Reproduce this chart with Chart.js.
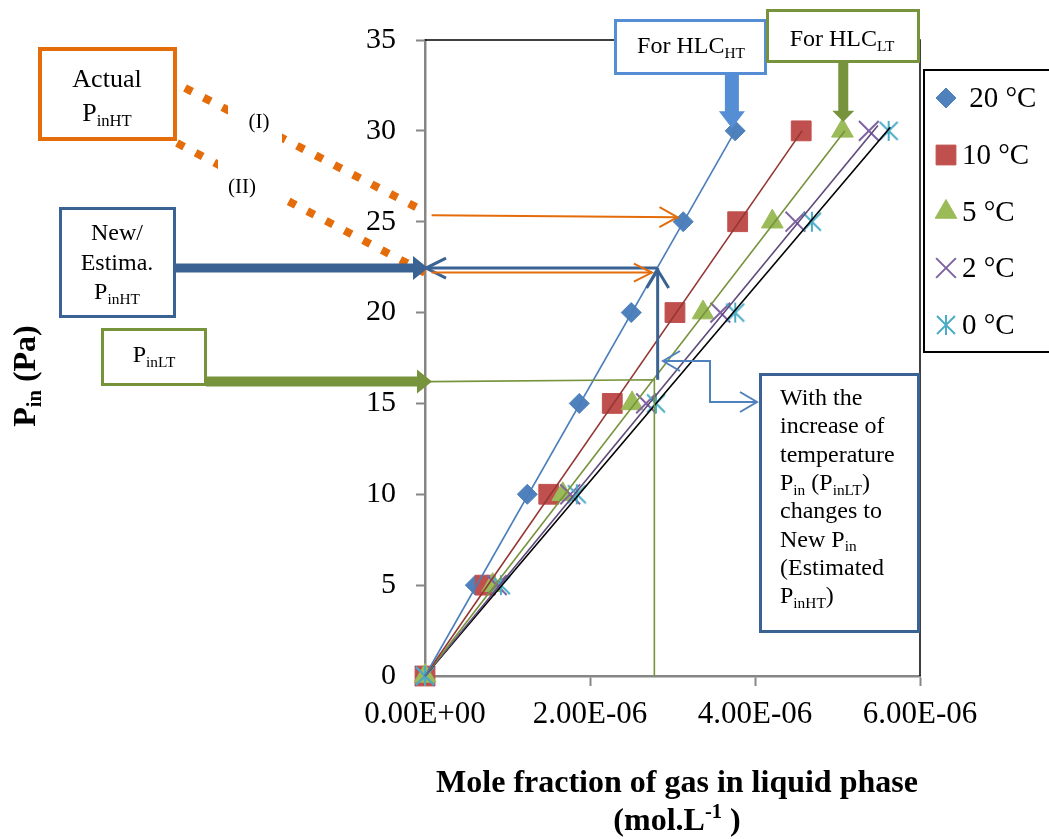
<!DOCTYPE html>
<html>
<head>
<meta charset="utf-8">
<title>Pin vs mole fraction</title>
<script src="https://cdn.jsdelivr.net/npm/chart.js@4.4.0/dist/chart.umd.min.js"></script>
<style>
  html, body { margin: 0; padding: 0; background: #fff; }
  #wrap { width: 1049px; height: 839px; }
</style>
</head>
<body>
<div id="wrap"><canvas id="henryChart" width="1049" height="839"></canvas></div>
<script>
// Pin against mole fraction of gas, five temperatures, with the HLC annotations

const pressurePa = [0, 5, 10, 15, 20, 25, 30];
const frac20C = [0, 0.61e-6, 1.24e-6, 1.87e-6, 2.50e-6, 3.13e-6, 3.76e-6];
const frac10C = [0, 0.73e-6, 1.50e-6, 2.27e-6, 3.03e-6, 3.79e-6, 4.56e-6];
const frac5C = [0, 0.82e-6, 1.67e-6, 2.51e-6, 3.37e-6, 4.21e-6, 5.06e-6];
const frac2C = [0, 0.87e-6, 1.76e-6, 2.68e-6, 3.58e-6, 4.49e-6, 5.38e-6];
const frac0C = [0, 0.92e-6, 1.84e-6, 2.80e-6, 3.76e-6, 4.69e-6, 5.62e-6];
const seriesLabels = ['20 °C', '10 °C', '5 °C', '2 °C', '0 °C'];

// trend lines start at the origin, end points
const trendEndX = [3.76e-6, 4.57e-6, 5.09e-6, 5.49e-6, 5.64e-6];
const trendEndY = [30.0, 30.0, 30.0, 30.3, 30.2];

const xTicks = [0, 2e-6, 4e-6, 6e-6];
const yTicks = [0, 5, 10, 15, 20, 25, 30, 35];

// annotation levels (axis units)
const pinActualHT = 25.35;
const pinActualHTDots = 25.55;
const pinEstHT = 22.45;
const pinEstHTOrange = 22.2;
const pinLT = 16.2;
const xEstHT = 2.82e-6;
const xLT = 2.78e-6;

const FONT = "'Liberation Serif', 'Times New Roman', serif";
const markerColors = ['#4F81BD', '#C0504D', '#9BBB59', '#8064A2', '#4BACC6'];
const trendColors = ['#4A7EBB', '#943634', '#77933C', '#5F497A', '#000000'];

// Excel style star: an X with a vertical stroke
function makeStarMarker(color) {
  const c = document.createElement('canvas');
  c.width = 22; c.height = 22;
  const g = c.getContext('2d');
  g.strokeStyle = color;
  g.lineWidth = 2;
  g.beginPath();
  g.moveTo(2, 2); g.lineTo(20, 20);
  g.moveTo(20, 2); g.lineTo(2, 20);
  g.moveTo(11, 1); g.lineTo(11, 21);
  g.stroke();
  return c;
}
const starMarker = makeStarMarker(markerColors[4]);

const markerStyles = [
  { pointStyle: 'rectRot', radius: 10, borderWidth: 1 },
  { pointStyle: 'rect', radius: 14, borderWidth: 1 },
  { pointStyle: 'triangle', radius: 12.5, borderWidth: 1 },
  { pointStyle: 'crossRot', radius: 14, borderWidth: 2 },
  { pointStyle: starMarker, radius: 11, borderWidth: 2 }
];

const fracSeries = [frac20C, frac10C, frac5C, frac2C, frac0C];

function sci(v) {
  const parts = Number(v).toExponential(2).split('e');
  let exp = parseInt(parts[1], 10);
  const sign = exp < 0 ? '-' : '+';
  exp = Math.abs(exp);
  return parts[0] + 'E' + sign + (exp < 10 ? '0' + exp : String(exp));
}

const datasets = [];
fracSeries.forEach((fr, i) => {
  datasets.push({
    label: seriesLabels[i] + ' trend',
    data: [{ x: 0, y: 0 }, { x: trendEndX[i], y: trendEndY[i] }],
    showLine: true,
    pointRadius: 0,
    borderColor: trendColors[i],
    borderWidth: 1.6,
    clip: false,
    order: 0
  });
});
fracSeries.forEach((fr, i) => {
  datasets.push({
    label: seriesLabels[i],
    data: fr.map((x, k) => ({ x: x, y: pressurePa[k] })),
    showLine: false,
    pointStyle: markerStyles[i].pointStyle,
    pointRadius: markerStyles[i].radius,
    pointHoverRadius: markerStyles[i].radius,
    pointBorderWidth: markerStyles[i].borderWidth,
    backgroundColor: markerColors[i],
    borderColor: markerColors[i],
    clip: false,
    order: 5 - i
  });
});

// ---- drawing helpers ----
function drawRich(ctx, parts, x, y, size, align, weight) {
  const sizes = parts.map(p => (p[1] ? size * 0.64 : size));
  const widths = parts.map((p, i) => {
    ctx.font = `${weight} ${sizes[i]}px ${FONT}`;
    return ctx.measureText(p[0]).width;
  });
  const total = widths.reduce((a, b) => a + b, 0);
  let cx = align === 'center' ? x - total / 2 : (align === 'right' ? x - total : x);
  ctx.textAlign = 'left';
  ctx.textBaseline = 'alphabetic';
  ctx.fillStyle = '#000';
  parts.forEach((p, i) => {
    ctx.font = `${weight} ${sizes[i]}px ${FONT}`;
    const dy = p[1] === 'sub' ? size * 0.2 : (p[1] === 'sup' ? -size * 0.36 : 0);
    ctx.fillText(p[0], cx, y + dy);
    cx += widths[i];
  });
}

function textBox(ctx, x, y, w, h, color, lw) {
  ctx.fillStyle = '#fff';
  ctx.fillRect(x, y, w, h);
  ctx.strokeStyle = color;
  ctx.lineWidth = lw;
  ctx.setLineDash([]);
  ctx.strokeRect(x + lw / 2, y + lw / 2, w - lw, h - lw);
}

function blockArrow(ctx, x1, y1, x2, y2, shaft, headW, headL, color) {
  const ang = Math.atan2(y2 - y1, x2 - x1);
  const len = Math.hypot(x2 - x1, y2 - y1);
  ctx.save();
  ctx.translate(x1, y1);
  ctx.rotate(ang);
  ctx.beginPath();
  ctx.moveTo(0, -shaft / 2);
  ctx.lineTo(len - headL, -shaft / 2);
  ctx.lineTo(len - headL, -headW / 2);
  ctx.lineTo(len, 0);
  ctx.lineTo(len - headL, headW / 2);
  ctx.lineTo(len - headL, shaft / 2);
  ctx.lineTo(0, shaft / 2);
  ctx.closePath();
  ctx.fillStyle = color;
  ctx.fill();
  ctx.restore();
}

function chevron(ctx, fromX, fromY, tipX, tipY, len, half) {
  const a = Math.atan2(tipY - fromY, tipX - fromX);
  const c = Math.cos(a), s = Math.sin(a);
  ctx.beginPath();
  ctx.moveTo(tipX - len * c + half * s, tipY - len * s - half * c);
  ctx.lineTo(tipX, tipY);
  ctx.lineTo(tipX - len * c - half * s, tipY - len * s + half * c);
  ctx.stroke();
}

function polyline(ctx, pts) {
  ctx.beginPath();
  ctx.moveTo(pts[0][0], pts[0][1]);
  for (let i = 1; i < pts.length; i++) ctx.lineTo(pts[i][0], pts[i][1]);
  ctx.stroke();
}

const annotationPlugin = {
  id: 'henryAnnotations',
  beforeDraw(chart) {
    const ctx = chart.ctx;
    ctx.save();
    ctx.fillStyle = '#fff';
    ctx.fillRect(0, 0, chart.width, chart.height);
    ctx.restore();
  },
  afterDraw(chart) {
    const ctx = chart.ctx;
    const area = chart.chartArea;
    const xs = v => chart.scales.x.getPixelForValue(v);
    const ys = v => chart.scales.y.getPixelForValue(v);
    ctx.save();
    ctx.lineCap = 'butt';
    ctx.lineJoin = 'miter';

    // top and right frame in black
    ctx.strokeStyle = '#000';
    ctx.lineWidth = 1.5;
    polyline(ctx, [[area.left, area.top], [area.right, area.top], [area.right, area.bottom]]);

    // green thin guide: from axis at PinLT, across, then down to the x axis
    ctx.strokeStyle = '#77933C';
    ctx.lineWidth = 1.6;
    polyline(ctx, [[xs(0.06e-6), ys(pinLT)], [xs(xLT), ys(pinLT + 0.1)], [xs(xLT), ys(0)]]);

    // dark blue: up from PinLT to estimated PinHT, then back to the axis
    ctx.strokeStyle = '#3A6293';
    ctx.lineWidth = 3;
    polyline(ctx, [[xs(xEstHT), ys(pinLT + 0.1)], [xs(xEstHT), ys(pinEstHT)]]);
    chevron(ctx, xs(xEstHT), ys(pinLT), xs(xEstHT), ys(pinEstHT) + 2, 18, 11);
    polyline(ctx, [[xs(xEstHT), ys(pinEstHT)], [xs(0), ys(pinEstHT)]]);
    chevron(ctx, xs(xEstHT), ys(pinEstHT), xs(0) + 1, ys(pinEstHT), 20, 10);

    // thin orange arrows from the axis
    ctx.strokeStyle = '#E46C0A';
    ctx.lineWidth = 2;
    polyline(ctx, [[xs(0.08e-6), ys(pinActualHT)], [xs(3.06e-6), ys(pinActualHT - 0.1)]]);
    chevron(ctx, xs(0.08e-6), ys(pinActualHT), xs(3.06e-6), ys(pinActualHT - 0.1), 18, 10);
    polyline(ctx, [[xs(0.08e-6), ys(pinEstHTOrange)], [xs(2.75e-6), ys(pinEstHTOrange)]]);
    chevron(ctx, xs(0.08e-6), ys(pinEstHTOrange), xs(2.75e-6), ys(pinEstHTOrange), 18, 9);

    // dotted orange lines (I) and (II) from the Actual box
    ctx.lineWidth = 8;
    ctx.setLineDash([8, 13]);
    polyline(ctx, [[185, 88], [xs(0), ys(pinActualHTDots)]]);
    polyline(ctx, [[177, 143], [xs(0), ys(pinEstHTOrange)]]);
    ctx.setLineDash([]);
    ctx.fillStyle = '#fff';
    ctx.fillRect(228, 100, 54, 45);
    ctx.fillRect(218, 156, 64, 44);
    drawRich(ctx, [['(I)', '']], 259, 128, 21, 'center', 'normal');
    drawRich(ctx, [['(II)', '']], 242, 193, 21, 'center', 'normal');

    // thick arrows into the y axis and down to the top points
    blockArrow(ctx, 176, ys(pinEstHT), xs(0) + 3, ys(pinEstHT), 9, 24, 15, '#3A6293');
    blockArrow(ctx, 206, ys(pinLT), xs(0) + 7, ys(pinLT), 10, 24, 15, '#77933C');
    blockArrow(ctx, xs(3.72e-6), 74, xs(3.72e-6), ys(30.15), 14, 26, 17, '#558ED5');
    blockArrow(ctx, xs(5.07e-6), 62, xs(5.07e-6), ys(30.5), 10, 22, 11, '#77933C');

    // boxes
    textBox(ctx, 38, 47, 139, 94, '#E46C0A', 4);
    drawRich(ctx, [['Actual', '']], 107, 87, 26, 'center', 'normal');
    drawRich(ctx, [['P', ''], ['inHT', 'sub']], 107, 121, 26, 'center', 'normal');

    textBox(ctx, 59, 207, 117, 111, '#3A6293', 3);
    drawRich(ctx, [['New/', '']], 117, 240, 24, 'center', 'normal');
    drawRich(ctx, [['Estima.', '']], 117, 270, 24, 'center', 'normal');
    drawRich(ctx, [['P', ''], ['inHT', 'sub']], 117, 299, 24, 'center', 'normal');

    textBox(ctx, 101, 328, 106, 58, '#77933C', 3);
    drawRich(ctx, [['P', ''], ['inLT', 'sub']], 154, 362, 24, 'center', 'normal');

    textBox(ctx, 614, 19, 153, 56, '#558ED5', 3);
    drawRich(ctx, [['For HLC', ''], ['HT', 'sub']], 691, 53, 24, 'center', 'normal');

    textBox(ctx, 766, 9, 154, 54, '#77933C', 3);
    drawRich(ctx, [['For HLC', ''], ['LT', 'sub']], 842, 46, 24, 'center', 'normal');

    textBox(ctx, 759, 373, 161, 260, '#3A6293', 3);
    const noteLines = [
      [['With the', '']],
      [['increase of', '']],
      [['temperature', '']],
      [['P', ''], ['in', 'sub'], [' (P', ''], ['inLT', 'sub'], [')', '']],
      [['changes to', '']],
      [['New P', ''], ['in', 'sub']],
      [['(Estimated', '']],
      [['P', ''], ['inHT', 'sub'], [')', '']]
    ];
    noteLines.forEach((ln, i) => drawRich(ctx, ln, 780, 405 + i * 28.3, 24, 'left', 'normal'));

    // elbow connector from the note to the vertical arrow
    ctx.strokeStyle = '#4F81BD';
    ctx.lineWidth = 2;
    polyline(ctx, [[663, 361], [710, 361], [710, 402], [757, 402]]);
    chevron(ctx, 710, 361, 663, 361, 17, 10);
    chevron(ctx, 710, 402, 757, 402, 17, 10);

    // legend
    textBox(ctx, 923, 69, 130, 284, '#000', 2);
    const legendBase = [107, 164, 221, 277, 334];
    chart.data.datasets.filter(d => !d.showLine).forEach((d, i) => {
      const my = legendBase[i] - 9;
      ctx.fillStyle = d.backgroundColor;
      ctx.strokeStyle = d.borderColor;
      ctx.lineWidth = d.pointBorderWidth;
      Chart.helpers.drawPoint(ctx, {
        pointStyle: d.pointStyle,
        radius: d.pointRadius,
        rotation: 0,
        borderWidth: d.pointBorderWidth
      }, 946, my);
      drawRich(ctx, [[(i === 0 ? ' ' : '') + d.label, '']], 962, legendBase[i], 29, 'left', 'normal');
    });

    // axis titles
    drawRich(ctx, [['Mole fraction of gas in liquid phase', '']], 677, 792, 32, 'center', 'bold');
    drawRich(ctx, [['(mol.L', ''], ['-1', 'sup'], [' )', '']], 677, 830, 32, 'center', 'bold');
    ctx.save();
    ctx.translate(35, 376);
    ctx.rotate(-Math.PI / 2);
    drawRich(ctx, [['P', ''], ['in', 'sub'], [' (Pa)', '']], 0, 0, 32, 'center', 'bold');
    ctx.restore();

    ctx.restore();
  }
};

Chart.defaults.font.family = FONT;
Chart.defaults.color = '#000';

new Chart(document.getElementById('henryChart'), {
  type: 'scatter',
  data: { datasets: datasets },
  options: {
    responsive: false,
    devicePixelRatio: 1,
    animation: false,
    events: [],
    layout: { padding: { left: 345, right: 129, top: 40, bottom: 103 } },
    plugins: {
      legend: { display: false },
      tooltip: { enabled: false }
    },
    scales: {
      x: {
        type: 'linear',
        min: 0,
        max: 6e-6,
        afterFit: s => { s.height = 60; },
        afterBuildTicks: s => { s.ticks = xTicks.map(v => ({ value: v })); },
        ticks: {
          font: { size: 31 },
          color: '#000',
          padding: 10,
          maxRotation: 0,
          callback: v => sci(v)
        },
        grid: {
          display: true,
          drawOnChartArea: false,
          drawTicks: true,
          tickLength: 10,
          tickColor: '#868686',
          tickWidth: 2
        },
        border: { color: '#868686', width: 2.5 }
      },
      y: {
        min: 0,
        max: 35,
        afterFit: s => { s.width = 80; },
        afterBuildTicks: s => { s.ticks = yTicks.map(v => ({ value: v })); },
        ticks: {
          font: { size: 30 },
          color: '#000',
          padding: 20
        },
        grid: {
          display: true,
          drawOnChartArea: false,
          drawTicks: true,
          tickLength: 9,
          tickColor: '#868686',
          tickWidth: 2
        },
        border: { color: '#868686', width: 2.5 }
      }
    }
  },
  plugins: [annotationPlugin]
});
</script>
</body>
</html>
